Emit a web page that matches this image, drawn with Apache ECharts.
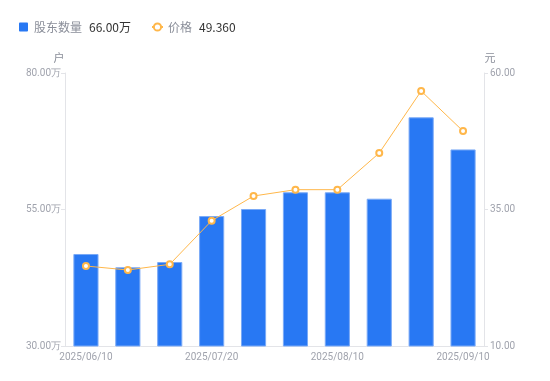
<!DOCTYPE html>
<html><head><meta charset="utf-8">
<script src="https://cdn.jsdelivr.net/npm/echarts@6/dist/echarts.min.js"></script>
<style>html,body{margin:0;padding:0;background:#fff}#c{width:550px;height:381px}</style>
</head><body><div id="c"></div>
<script>
var categories = ['2025/06/10','2025/06/20','2025/06/30','2025/07/20','2025/07/31','2025/08/01','2025/08/10','2025/08/20','2025/08/31','2025/09/10'];
var holders = [46.85, 44.41, 45.38, 53.80, 55.09, 58.15, 58.15, 56.98, 71.88, 66.00];
var prices = [24.65, 23.92, 24.96, 32.95, 37.47, 38.63, 38.63, 45.35, 56.70, 49.36];
var leftTicks = [30, 55, 80];
var rightTicks = [10, 35, 60];

var chart = echarts.init(document.getElementById('c'));
var lastH = holders[holders.length-1], lastP = prices[prices.length-1];
var font = '"Noto Sans CJK SC", "Noto Sans", sans-serif';
chart.setOption({
  animation: false,
  textStyle: {fontFamily: font},
  legend: {
    left: 14, top: 16, itemWidth: 11, itemHeight: 9, itemGap: 20,
    data: [
      {name: '股东数量', icon: 'path://M1,0h8a1,1 0 0 1 1,1v8a1,1 0 0 1 -1,1h-8a1,1 0 0 1 -1,-1v-8a1,1 0 0 1 1,-1z', itemStyle: {borderWidth: 0, color: '#2878f3'}},
      {name: '价格'}
    ],
    formatter: function(name){
      if (name === '股东数量') return '{a|' + name + '}{b|' + lastH.toFixed(2) + '万}';
      return '{a|' + name + '}{b|' + lastP.toFixed(3) + '}';
    },
    textStyle: {rich: {
      a: {color: '#8a8e99', fontSize: 12, padding: [0, 7, 0, 0], fontFamily: font},
      b: {color: '#333', fontSize: 12, fontFamily: font}
    }}
  },
  grid: {left: 65, right: 66, top: 73, bottom: 35},
  xAxis: {
    type: 'category', data: categories,
    axisLine: {lineStyle: {color: '#e3e4e8'}},
    axisTick: {show: false},
    axisLabel: {interval: 2, color: '#a0a3ad', fontSize: 10, margin: 6,
      fontFamily: 'Roboto, sans-serif',
      align: 'center'}
  },
  yAxis: [{
    type: 'value', min: 30, max: 80, interval: 25, name: '户',
    nameTextStyle: {color: '#8a8e99', fontSize: 11, padding: [0, 0, 0, -12]},
    nameGap: 10,
    axisLine: {show: true, lineStyle: {color: '#e3e4e8'}},
    axisTick: {show: true, length: 4, lineStyle: {color: '#e3e4e8'}},
    splitLine: {show: false},
    axisLabel: {color: '#a0a3ad', fontSize: 10, margin: 4, fontFamily: 'Roboto, sans-serif',
      formatter: function(v){ return v.toFixed(2) + '万'; }}
  }, {
    type: 'value', min: 10, max: 60, interval: 25, name: '元', position: 'right',
    nameTextStyle: {color: '#8a8e99', fontSize: 11, padding: [0, 0, 0, 12]},
    nameGap: 10,
    axisLine: {show: true, lineStyle: {color: '#e3e4e8'}},
    axisTick: {show: true, length: 4, lineStyle: {color: '#e3e4e8'}},
    splitLine: {show: false},
    axisLabel: {color: '#a0a3ad', fontSize: 10, margin: 6, fontFamily: 'Roboto, sans-serif',
      formatter: function(v){ return v.toFixed(2); }}
  }],
  series: [{
    name: '股东数量', type: 'bar', data: holders, barWidth: '60%',
    itemStyle: {color: '#2878f3', borderColor: '#7aaaf7', borderWidth: 1}
  }, {
    name: '价格', type: 'line', yAxisIndex: 1, data: prices,
    symbol: 'emptyCircle', symbolSize: 6,
    lineStyle: {color: '#ffb74a', width: 1},
    itemStyle: {color: '#ffb74a', borderWidth: 2}
  }]
});
</script></body></html>
